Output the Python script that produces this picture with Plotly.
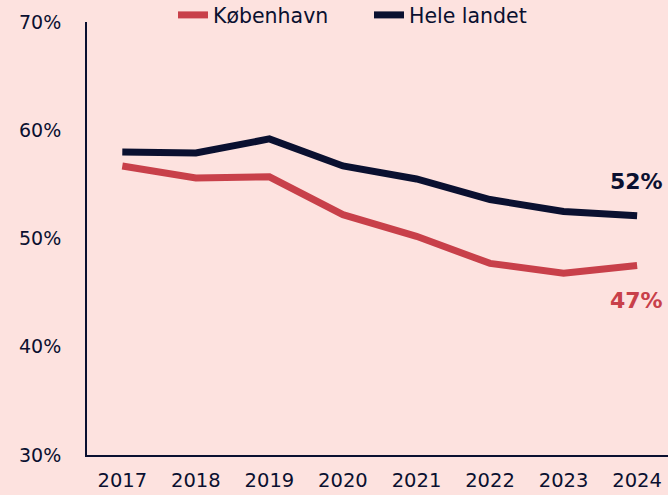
import plotly.graph_objects as go

years = [2017, 2018, 2019, 2020, 2021, 2022, 2023, 2024]
kobenhavn = [56.7, 55.6, 55.7, 52.2, 50.2, 47.7, 46.8, 47.5]
hele_landet = [58.0, 57.9, 59.2, 56.7, 55.5, 53.6, 52.5, 52.1]
y_ticks = [30, 40, 50, 60, 70]
y_ticktext = ["30%", "40%", "50%", "60%", "70%"]
label_kbh = "47%"
label_hele = "52%"

RED = "#c8404a"
NAVY = "#0a1030"
BG = "#fde2df"
FONT = "'DejaVu Sans', sans-serif"

fig = go.Figure()
fig.add_trace(go.Scatter(x=years, y=kobenhavn, mode="lines", name="København",
                         line=dict(color=RED, width=7)))
fig.add_trace(go.Scatter(x=years, y=hele_landet, mode="lines", name="Hele landet",
                         line=dict(color=NAVY, width=7)))

fig.add_annotation(x=years[-1], y=hele_landet[-1], text=f"<b>{label_hele}</b>",
                   showarrow=False, yshift=34, xshift=-1, font=dict(size=22, color=NAVY, family=FONT))
fig.add_annotation(x=years[-1], y=kobenhavn[-1], text=f"<b>{label_kbh}</b>",
                   showarrow=False, yshift=-35, xshift=-1, font=dict(size=22, color=RED, family=FONT))

fig.update_layout(
    width=668, height=495,
    paper_bgcolor=BG, plot_bgcolor=BG,
    margin=dict(l=87, r=0, t=22, b=40, autoexpand=False),
    font=dict(family=FONT, size=19, color=NAVY),
    showlegend=True,
    legend=dict(orientation="h", x=0.148, xanchor="left", y=1.016, yanchor="middle",
                bgcolor="rgba(0,0,0,0)", font=dict(size=20.5, color=NAVY, family=FONT),
                entrywidth=151, entrywidthmode="pixels", tracegroupgap=0),
    xaxis=dict(range=[2016.52, 2024.42], tickvals=years, ticktext=[str(y) for y in years],
               showgrid=False, zeroline=False, showline=True, linecolor=NAVY, linewidth=2,
               ticks="", ticklabelstandoff=7, tickfont=dict(size=19.5, color=NAVY)),
    yaxis=dict(range=[30, 70], tickvals=y_ticks, ticktext=y_ticktext,
               showgrid=False, zeroline=False, showline=True, linecolor=NAVY, linewidth=2,
               ticks="", ticklabelstandoff=20, tickfont=dict(size=19, color=NAVY)),
)

fig.write_html("out.html", config={"displayModeBar": False},
               post_script="document.body.style.margin='0';")
